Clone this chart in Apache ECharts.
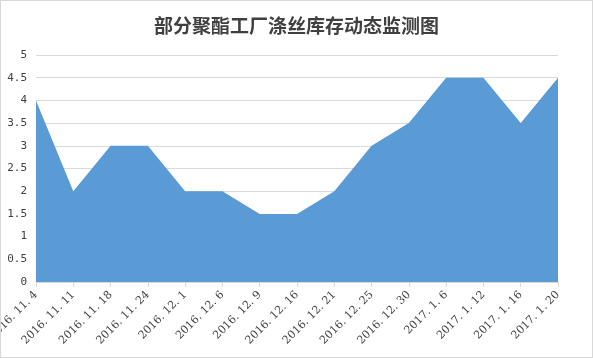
<!DOCTYPE html>
<html><head><meta charset="utf-8">
<script src="https://cdn.jsdelivr.net/npm/echarts@6/dist/echarts.min.js"></script>
<style>html,body{margin:0;padding:0;background:#fff}#c{width:591px;height:356px;border:1px solid #d9d9d9}</style>
</head><body><div id="c"></div>
<script>
const categories = ['2016. 11. 4','2016. 11. 11','2016. 11. 18','2016. 11. 24','2016. 12. 1','2016. 12. 6','2016. 12. 9','2016. 12. 16','2016. 12. 21','2016. 12. 25','2016. 12. 30','2017. 1. 6','2017. 1. 12','2017. 1. 16','2017. 1. 20'];
const values = [4, 2, 3, 3, 2, 2, 1.5, 1.5, 2, 3, 3.5, 4.5, 4.5, 3.5, 4.5];
const titleText = '部分聚酯工厂涤丝库存动态监测图';
const chart = echarts.init(document.getElementById('c'));
chart.setOption({
  animation: false,
  title: {text: titleText, left: 'center', top: 10, textStyle: {fontSize: 19, fontWeight: 'bold', color: '#404040', fontFamily: 'Noto Sans CJK SC'}},
  grid: {left: 35, right: 34, top: 54, bottom: 75, containLabel: false, outerBoundsMode: 'none'},
  xAxis: {type: 'category', data: categories, boundaryGap: false,
    axisLine: {lineStyle: {color: '#d9d9d9'}},
    axisTick: {alignWithLabel: true, length: 5, lineStyle: {color: '#d9d9d9'}},
    axisLabel: {rotate: 45, interval: 0, fontSize: 11, color: '#404040', fontFamily: 'DejaVu Serif', margin: 11}},
  yAxis: {type: 'value', min: 0, max: 5, interval: 0.5,
    axisLine: {show: false}, axisTick: {show: false},
    splitLine: {lineStyle: {color: '#d9d9d9'}},
    axisLabel: {fontSize: 11, color: '#404040', fontFamily: 'DejaVu Sans Mono', margin: 9}},
  series: [{type: 'line', data: values, symbol: 'none', lineStyle: {width: 0}, areaStyle: {color: '#5b9bd5', opacity: 1}}]
});
</script></body></html>
